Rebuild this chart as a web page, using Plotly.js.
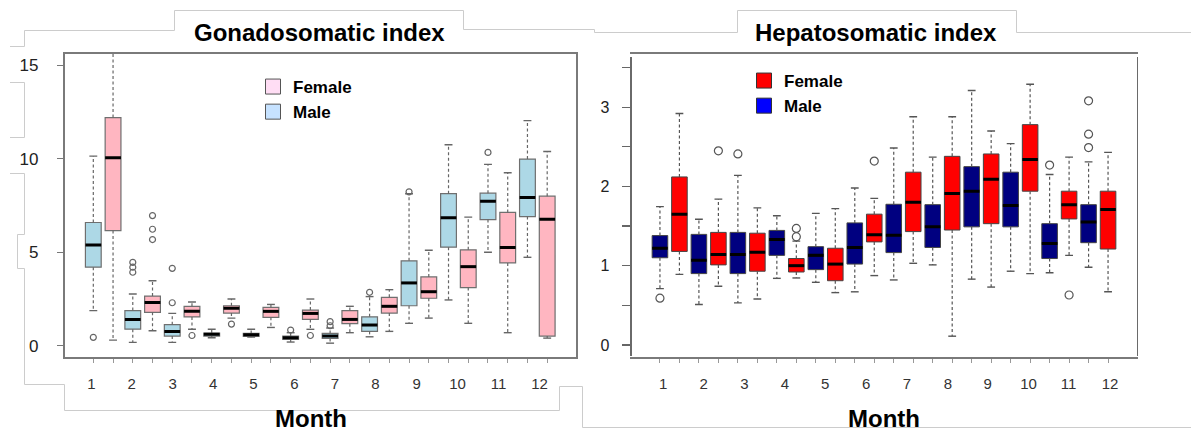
<!DOCTYPE html>
<html>
<head>
<meta charset="utf-8">
<script src="https://cdn.plot.ly/plotly-3.0.1.min.js"></script>
<style>
html,body{margin:0;padding:0;background:#ffffff;}
#chart{width:1191px;height:432px;}
</style>
</head>
<body>
<div id="chart"></div>
<script>
// ---------------- data ----------------
const months = [1,2,3,4,5,6,7,8,9,10,11,12];
const monthLabels = ['1','2','3','4','5','6','7','8','9','10','11','12'];

// Gonadosomatic index - Male
const gsiMaleLower  = [1.88, 0.18, 0.18, 0.43, 0.46, 0.20, 0.14, 0.48, 1.20, 2.45, 5.00, 4.73];
const gsiMaleQ1     = [4.20, 0.89, 0.52, 0.52, 0.50, 0.34, 0.39, 0.77, 2.14, 5.27, 6.75, 6.91];
const gsiMaleMedian = [5.39, 1.41, 0.77, 0.61, 0.59, 0.43, 0.52, 1.11, 3.36, 6.84, 7.73, 7.93];
const gsiMaleQ3     = [6.59, 1.88, 1.13, 0.68, 0.66, 0.52, 0.66, 1.55, 4.54, 8.13, 8.16, 9.98];
const gsiMaleUpper  = [10.14, 2.77, 1.73, 0.88, 0.88, 0.70, 0.95, 2.63, 8.13, 10.75, 9.70, 12.04];
const gsiMaleOutMonth = [1, 2, 2, 2, 3, 3, 6, 7, 7, 8, 9, 11];
const gsiMaleOutValue = [0.45, 4.46, 4.20, 3.93, 4.14, 2.30, 0.84, 1.29, 1.07, 2.86, 8.23, 10.34];

// Gonadosomatic index - Female
const gsiFemaleLower  = [0.30, 0.80, 0.88, 1.48, 0.98, 0.88, 0.70, 0.77, 1.48, 1.20, 0.70, 0.41];
const gsiFemaleQ1     = [6.16, 1.79, 1.54, 1.75, 1.52, 1.41, 1.18, 1.75, 2.54, 3.11, 4.43, 0.52];
const gsiFemaleMedian = [10.05, 2.32, 1.84, 2.00, 1.84, 1.73, 1.41, 2.11, 2.89, 4.23, 5.25, 6.77];
const gsiFemaleQ3     = [12.20, 2.66, 2.11, 2.14, 2.05, 1.91, 1.88, 2.59, 3.68, 5.13, 7.13, 8.00];
const gsiFemaleUpper  = [16.4, 3.48, 2.34, 2.50, 2.21, 2.50, 2.11, 3.00, 5.11, 6.88, 9.25, 10.39];
const gsiFemaleOutMonth = [2, 2, 2, 3, 4, 6];
const gsiFemaleOutValue = [6.96, 6.23, 5.68, 0.55, 1.16, 0.55];

// Hepatosomatic index - Male
const hsiMaleLower  = [0.71, 0.51, 0.53, 0.84, 0.79, 0.67, 0.82, 1.01, 0.83, 0.93, 0.91, 0.98];
const hsiMaleQ1     = [1.10, 0.90, 0.90, 1.13, 0.95, 1.02, 1.165, 1.23, 1.49, 1.49, 1.09, 1.29];
const hsiMaleMedian = [1.22, 1.07, 1.14, 1.33, 1.13, 1.23, 1.385, 1.49, 1.94, 1.76, 1.28, 1.55];
const hsiMaleQ3     = [1.38, 1.395, 1.42, 1.445, 1.24, 1.54, 1.775, 1.77, 2.25, 2.18, 1.53, 1.77];
const hsiMaleUpper  = [1.745, 1.585, 2.14, 1.63, 1.66, 1.98, 2.485, 2.37, 3.21, 2.54, 2.15, 2.31];
const hsiMaleOutMonth = [1, 3, 11, 12, 12, 12];
const hsiMaleOutValue = [0.59, 2.41, 2.27, 3.08, 2.66, 2.49];

// Hepatosomatic index - Female
const hsiFemaleLower  = [0.89, 0.74, 0.58, 0.845, 0.66, 0.875, 1.03, 0.11, 0.73, 0.90, 1.13, 0.67];
const hsiFemaleQ1     = [1.18, 1.01, 0.93, 0.92, 0.81, 1.30, 1.43, 1.45, 1.53, 1.94, 1.59, 1.21];
const hsiFemaleMedian = [1.65, 1.14, 1.17, 1.00, 1.02, 1.39, 1.80, 1.91, 2.09, 2.34, 1.77, 1.71];
const hsiFemaleQ3     = [2.12, 1.42, 1.41, 1.09, 1.22, 1.65, 2.18, 2.38, 2.41, 2.78, 1.94, 1.94];
const hsiFemaleUpper  = [2.92, 1.84, 1.73, 1.31, 1.72, 1.85, 2.88, 2.88, 2.70, 3.29, 2.37, 2.43];
const hsiFemaleOutMonth = [2, 4, 4, 6, 11];
const hsiFemaleOutValue = [2.45, 1.47, 1.365, 2.32, 0.63];

// ---------------- layout helpers ----------------
const W = 1191, H = 432;
const FONT = 'Liberation Sans, Arial, Helvetica, sans-serif';
const BOXW = 0.8, CAPW = 0.2;
const malePos = months.map(m => 2 * m - 1);
const femalePos = months.map(m => 2 * m);
const allPos = months.flatMap(m => [2 * m - 1, 2 * m]);
const gsiLabelPos = [0.9, 2.94, 5.02, 7.07, 9.11, 11.19, 13.24, 15.3, 17.38, 19.46, 21.53, 23.61];
const hsiLabelPos = [1.17, 3.24, 5.33, 7.42, 9.48, 11.58, 13.68, 15.78, 17.82, 19.92, 21.97, 24.1];

function boxSeries(pos, lower, q1, med, q3, upper, outMonth, outVal, outPosFn, st, xa, ya) {
  const traces = [];
  traces.push({
    type: 'box', x: pos, q1: q1, median: med, q3: q3,
    lowerfence: q1, upperfence: q3, width: BOXW, whiskerwidth: 0,
    fillcolor: st.fill, line: {color: st.edge, width: st.edgeW},
    showlegend: false, hoverinfo: 'skip', xaxis: xa, yaxis: ya
  });
  const wx = [], wy = [], cx = [], cy = [], mx = [], my = [];
  pos.forEach((p, i) => {
    wx.push(p, p, null, p, p, null);
    wy.push(q3[i], upper[i], null, q1[i], lower[i], null);
    cx.push(p - CAPW, p + CAPW, null, p - CAPW, p + CAPW, null);
    cy.push(upper[i], upper[i], null, lower[i], lower[i], null);
    mx.push(p - BOXW / 2, p + BOXW / 2, null);
    my.push(med[i], med[i], null);
  });
  traces.push({type: 'scatter', mode: 'lines', x: wx, y: wy,
    line: {color: st.whisk, width: 1.2, dash: '3px,2.5px'},
    showlegend: false, hoverinfo: 'skip', xaxis: xa, yaxis: ya});
  traces.push({type: 'scatter', mode: 'lines', x: cx, y: cy,
    line: {color: st.whisk, width: 1.4},
    showlegend: false, hoverinfo: 'skip', xaxis: xa, yaxis: ya});
  traces.push({type: 'scatter', mode: 'lines', x: mx, y: my,
    line: {color: '#000000', width: 3},
    showlegend: false, hoverinfo: 'skip', xaxis: xa, yaxis: ya});
  traces.push({type: 'scatter', mode: 'markers', x: outMonth.map(outPosFn), y: outVal,
    marker: {symbol: 'circle-open', size: st.outSize, color: st.whisk, line: {width: 1.2}},
    showlegend: false, hoverinfo: 'skip', xaxis: xa, yaxis: ya});
  return traces;
}

const gsiMaleSt = {fill: '#ADD8E6', edge: '#6f6f6f', edgeW: 1.2, whisk: '#666666', outSize: 6};
const gsiFemaleSt = {fill: '#FFB6C1', edge: '#6f6f6f', edgeW: 1.2, whisk: '#666666', outSize: 6};
const hsiMaleSt = {fill: '#000080', edge: '#444444', edgeW: 1, whisk: '#555555', outSize: 8};
const hsiFemaleSt = {fill: '#FF0000', edge: '#444444', edgeW: 1, whisk: '#555555', outSize: 8};

let data = [];
data = data.concat(boxSeries(malePos, gsiMaleLower, gsiMaleQ1, gsiMaleMedian, gsiMaleQ3, gsiMaleUpper,
  gsiMaleOutMonth, gsiMaleOutValue, m => 2 * m - 1, gsiMaleSt, 'x', 'y'));
data = data.concat(boxSeries(femalePos, gsiFemaleLower, gsiFemaleQ1, gsiFemaleMedian, gsiFemaleQ3, gsiFemaleUpper,
  gsiFemaleOutMonth, gsiFemaleOutValue, m => 2 * m, gsiFemaleSt, 'x', 'y'));
data = data.concat(boxSeries(malePos, hsiMaleLower, hsiMaleQ1, hsiMaleMedian, hsiMaleQ3, hsiMaleUpper,
  hsiMaleOutMonth, hsiMaleOutValue, m => 2 * m - 1, hsiMaleSt, 'x2', 'y2'));
data = data.concat(boxSeries(femalePos, hsiFemaleLower, hsiFemaleQ1, hsiFemaleMedian, hsiFemaleQ3, hsiFemaleUpper,
  hsiFemaleOutMonth, hsiFemaleOutValue, m => 2 * m, hsiFemaleSt, 'x2', 'y2'));

// legend entries
function legendItem(name, color, edge, legend, xa, ya) {
  return {type: 'scatter', mode: 'markers', x: [null], y: [null], name: name,
    marker: {symbol: 'square', size: 15, color: color, line: {color: edge, width: 1}},
    legend: legend, xaxis: xa, yaxis: ya, hoverinfo: 'skip'};
}
data.push(legendItem('Female', '#FFDDF4', '#555555', 'legend', 'x', 'y'));
data.push(legendItem('Male', '#C6E2FF', '#555555', 'legend', 'x', 'y'));
data.push(legendItem('Female', '#FF0000', '#333333', 'legend2', 'x2', 'y2'));
data.push(legendItem('Male', '#0000FF', '#333333', 'legend2', 'x2', 'y2'));

// decorative frame lines of the composite figure
function pathFrom(pts) {
  return pts.map((p, i) => (i ? 'L' : 'M') + (p[0] / W).toFixed(5) + ',' + (1 - p[1] / H).toFixed(5)).join(' ');
}
const decoPaths = [
  [[10, 46.5], [24.5, 46.5], [24.5, 30.5], [174.5, 30.5], [174.5, 10.5], [463.5, 10.5], [463.5, 29.5], [594.5, 29.5], [594.5, 32.5], [737.5, 32.5], [737.5, 10.5], [1016.5, 10.5], [1016.5, 32.5], [1191, 32.5]],
  [[10, 82.5], [24.5, 82.5], [24.5, 137.5], [10, 137.5]],
  [[10, 173.5], [24.5, 173.5], [24.5, 234.5], [17.5, 234.5], [17.5, 268.5], [24.5, 268.5], [24.5, 384.5], [64.5, 384.5], [64.5, 410.5], [559.5, 410.5], [559.5, 386.5], [582.5, 386.5], [582.5, 427.5], [1191, 427.5]]
];
const shapes = decoPaths.map(p => ({type: 'path', xref: 'paper', yref: 'paper', path: pathFrom(p),
  line: {color: '#cccccc', width: 1}, layer: 'below'}));

function xAxis(domain, labelPos) {
  return {
    domain: domain, range: [-0.46, 25.46], tickmode: 'array', tickvals: labelPos, ticktext: monthLabels,
    ticks: '', ticklabelstandoff: 12, tickfont: {family: FONT, size: 15, color: '#333333'},
    minor: {tickmode: 'array', tickvals: allPos, ticks: 'outside', ticklen: 4, tickcolor: '#999999', tickwidth: 1},
    showline: true, mirror: true, linecolor: '#7a7a7a', linewidth: 1.6,
    showgrid: false, zeroline: false, fixedrange: true
  };
}

const layout = {
  width: W, height: H,
  margin: {l: 0, r: 0, t: 0, b: 0},
  paper_bgcolor: '#ffffff', plot_bgcolor: '#ffffff',
  font: {family: FONT, color: '#000000'},
  showlegend: true,
  xaxis: xAxis([64.5 / W, 576 / W], gsiLabelPos),
  xaxis2: xAxis([631.5 / W, 1136.5 / W], hsiLabelPos),
  yaxis: {
    domain: [1 - 357 / H, 1 - 54 / H], range: [-0.6, 15.6],
    tickmode: 'array', tickvals: [0, 5, 10, 15], ticktext: ['0', '5', '10', '15'],
    ticks: 'outside', ticklen: 6, tickcolor: '#777777', tickwidth: 1.2, ticklabelstandoff: 15,
    tickfont: {family: FONT, size: 17, color: '#222222'},
    showline: true, mirror: true, linecolor: '#7a7a7a', linewidth: 1.6,
    showgrid: false, zeroline: false, fixedrange: true
  },
  yaxis2: {
    anchor: 'x2', domain: [1 - 356 / H, 1 - 56.5 / H], range: [-0.14, 3.64],
    tickmode: 'array', tickvals: [0, 0.5, 1, 1.5, 2, 2.5, 3, 3.5], ticktext: ['0', '', '1', '', '2', '', '3', ''],
    ticks: 'outside', ticklen: 8, tickcolor: '#666666', tickwidth: 1.2, ticklabelstandoff: 9,
    tickfont: {family: FONT, size: 16, color: '#222222'},
    showline: true, mirror: true, linecolor: '#6a6a6a', linewidth: 1.8,
    showgrid: false, zeroline: false, fixedrange: true
  },
  legend: {x: 253 / W, y: 1 - 69 / H, xanchor: 'left', yanchor: 'top', bgcolor: 'rgba(0,0,0,0)',
    borderwidth: 0, font: {family: FONT, size: 17, weight: 700, color: '#000000'}, itemwidth: 30},
  legend2: {x: 744 / W, y: 1 - 63 / H, xanchor: 'left', yanchor: 'top', bgcolor: 'rgba(0,0,0,0)',
    borderwidth: 0, font: {family: FONT, size: 17, weight: 700, color: '#000000'}, itemwidth: 30},
  annotations: [
    {xref: 'paper', yref: 'paper', x: 319 / W, y: 1 - 32 / H, xanchor: 'center', yanchor: 'middle',
     text: 'Gonadosomatic index', showarrow: false, font: {family: FONT, size: 24, weight: 700, color: '#000000'}},
    {xref: 'paper', yref: 'paper', x: 876 / W, y: 1 - 33 / H, xanchor: 'center', yanchor: 'middle',
     text: 'Hepatosomatic index', showarrow: false, font: {family: FONT, size: 24, weight: 700, color: '#000000'}},
    {xref: 'paper', yref: 'paper', x: 311 / W, y: 1 - 418 / H, xanchor: 'center', yanchor: 'middle',
     text: 'Month', showarrow: false, font: {family: FONT, size: 24, weight: 700, color: '#000000'}},
    {xref: 'paper', yref: 'paper', x: 884 / W, y: 1 - 418 / H, xanchor: 'center', yanchor: 'middle',
     text: 'Month', showarrow: false, font: {family: FONT, size: 24, weight: 700, color: '#000000'}}
  ],
  shapes: shapes
};

Plotly.newPlot('chart', data, layout, {displayModeBar: false, staticPlot: true});
</script>
</body>
</html>
